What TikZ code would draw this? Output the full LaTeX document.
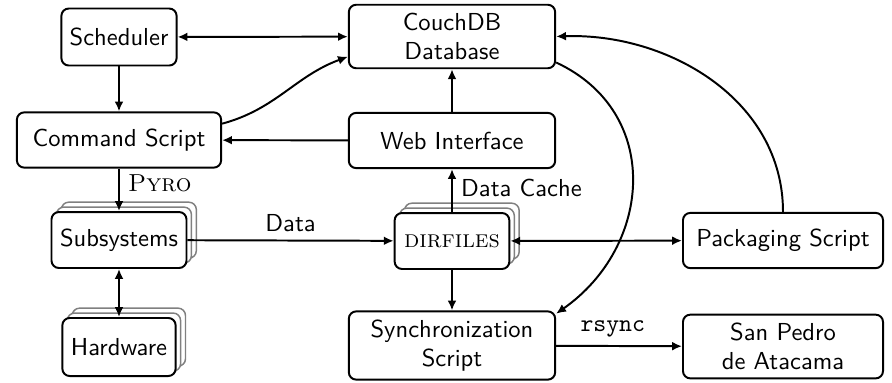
\documentclass[tikz,border=0pt]{standalone}
\usetikzlibrary{shadows,arrows.meta}

\begin{document}
\begin{tikzpicture}[x=0.0143cm, y=-0.0143cm, >={Latex[length=4pt,width=3.6pt]}, thick,
    box/.style={draw, rounded corners=3pt, align=center, fill=white, font=\sffamily},
    wide/.style={minimum width=2.95cm},
    stack/.style={double copy shadow={shadow xshift=2pt, shadow yshift=2pt, draw=black!50, fill=white, semithick}}]
        % Definizioni
        \def\lh{0.79cm}
        \useasboundingbox (0,0) rectangle (892,382);

        % Nodi a sinistra
        \node[box, minimum width=1.63cm, minimum height=0.815cm] (sched) at (119,37) {Scheduler};
        \node[box, minimum width=2.92cm, minimum height=\lh] (cmd) at (119,140) {Command Script};
        \node[box, stack, minimum width=1.93cm, minimum height=0.8cm] (subsys) at (119,240) {Subsystems};
        \node[box, stack, minimum width=1.62cm, minimum height=0.83cm] (hw) at (119,347) {Hardware};

        % Nodi al centro
        \node[box, wide, minimum height=0.9cm] (couch) at (452,36.5) {CouchDB\\Database};
        \node[box, wide, minimum height=\lh] (web) at (452,140.5) {Web Interface};
        \node[box, stack, minimum width=1.64cm, minimum height=0.8cm] (dirf) at (452,241) {\textrm{\textsc{dirfiles}}};
        \node[box, wide, minimum height=0.93cm] (sync) at (452,345.5) {Synchronization\\Script};

        % Nodi a destra
        \node[box, minimum width=2.86cm, minimum height=\lh] (pack) at (783,240.5) {Packaging Script};
        \node[box, minimum width=2.86cm, minimum height=0.9cm] (spa) at (783,346.5) {San Pedro\\de Atacama};

        % Frecce dritte
        \foreach \a/\b in {sched/cmd, web/cmd, web/couch, dirf/sync} {
            \draw[->] (\a) -- (\b);
        }
        \draw[<->] (sched) -- (couch);
        \draw[<->] (subsys) -- (hw);
        \draw[<->] (dirf) -- (pack);
        \draw[->] (cmd) -- node[right, pos=0.35] {\textsc{Pyro}} (subsys);
        \draw[->] (subsys) -- node[above, font=\sffamily] {Data} (dirf);
        \draw[->] (dirf) -- node[right, pos=0.55, font=\sffamily] {Data Cache} (web);
        \draw[->] (sync) -- node[above, pos=0.45] {\texttt{rsync}} (spa);

        % Frecce curve
        \draw[->] (cmd.9) to[out=15, in=200] (couch.191);
        \draw[->] (pack.north) to[out=90, in=2] (couch.east);
        \draw[->] (couch.-14) to[out=-25, in=35, looseness=1.2] (sync.17);

    \end{tikzpicture}
\end{document}
